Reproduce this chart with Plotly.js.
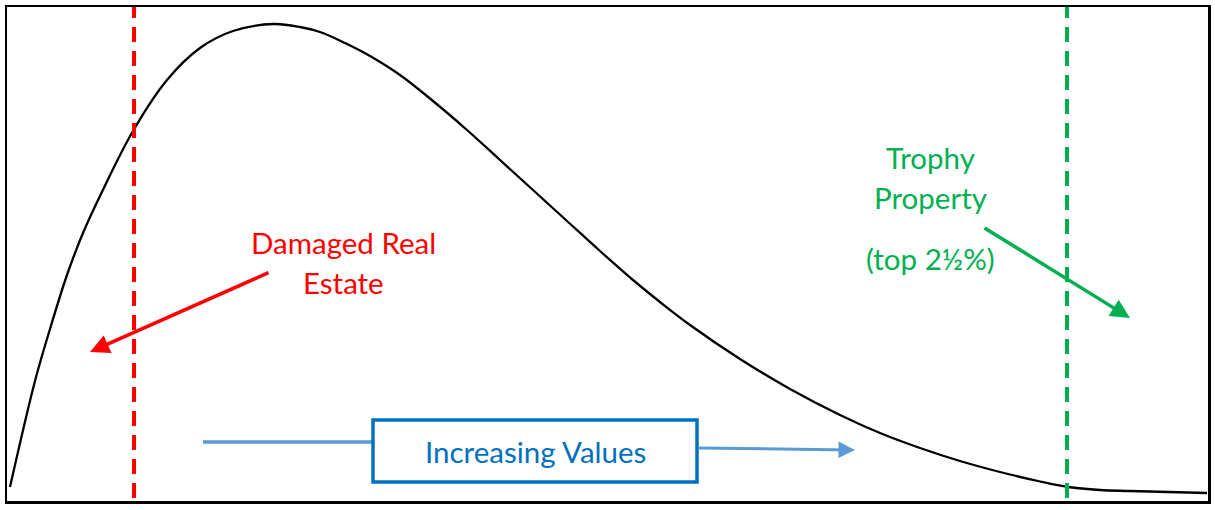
<!DOCTYPE html>
<html>
<head>
<meta charset="utf-8">
<script src="https://cdn.plot.ly/plotly-3.0.1.min.js"></script>
<style>html,body{margin:0;padding:0;background:#fff;}#chart{width:1215px;height:510px;}</style>
</head>
<body>
<div id="chart"></div>
<script>
// Distribution curve (value index vs. relative frequency)
const curveX = [3, 28, 43, 60, 76, 93, 126, 160, 193, 226, 267, 293, 313, 338, 363, 393, 426, 460, 493, 526, 560, 593, 626, 653, 683, 733, 783, 833, 873, 913, 953, 993, 1031, 1061, 1093, 1123, 1200];
const curveY = [14, 120, 172, 226, 268, 305, 370, 421, 453, 470, 477, 474, 469, 458, 445, 426, 400, 371, 341, 311, 280, 250, 221, 199, 176, 142, 112, 86, 68, 53, 40, 29, 20, 14, 11, 10, 8];

// Cut-off markers
const damagedCut = 127;
const trophyCut = 1060;

// Labels
const damagedLabel = ["Damaged Real", "Estate"];
const trophyLabel = ["Trophy", "Property", "(top 2½%)"];
const valuesLabel = "Increasing Values";

const FONT = "Lato, 'Open Sans', sans-serif";
const RED = "#ff0000", GREEN = "#00b050", BLUE = "#0070c0", LBLUE = "#5b9bd5";

const traces = [
  {x: curveX, y: curveY, mode: "lines", line: {color: "#000", width: 2.3, shape: "spline", smoothing: 1}, hoverinfo: "skip"},
  {x: [damagedCut, damagedCut], y: [3, 494], mode: "lines", line: {color: RED, width: 4, dash: "15px,9px"}, hoverinfo: "skip"},
  {x: [trophyCut, trophyCut], y: [3, 494], mode: "lines", line: {color: GREEN, width: 4, dash: "15px,9px"}, hoverinfo: "skip"}
];

function txt(t, x, y, color) {
  return {text: t, x: x, y: y, xref: "x", yref: "y", showarrow: false, font: {family: FONT, size: 29.5, color: color}, xanchor: "center", yanchor: "middle"};
}
function arrow(x, y, ax, ay, color, w) {
  return {text: "", x: x, y: y, ax: ax, ay: ay, xref: "x", yref: "y", axref: "x", ayref: "y", showarrow: true, arrowhead: 2, arrowsize: 1.1, arrowwidth: w, arrowcolor: color, standoff: 0, startstandoff: 0};
}

const annotations = [
  txt(damagedLabel[0], 336, 259, RED),
  txt(damagedLabel[1], 336, 219, RED),
  txt(trophyLabel[0], 923, 344, GREEN),
  txt(trophyLabel[1], 923, 304, GREEN),
  txt(trophyLabel[2], 923, 243, GREEN),
  txt(valuesLabel, 528, 50, BLUE),
  arrow(83, 149, 263, 229, RED, 3.5),
  arrow(1123, 183, 976, 274, GREEN, 3.5),
  arrow(848, 51, 690, 53, LBLUE, 3)
];

const shapes = [
  {type: "line", xref: "x", yref: "y", x0: 196, y0: 59, x1: 366, y1: 59, line: {color: LBLUE, width: 3.5}},
  {type: "rect", xref: "x", yref: "y", x0: 366, y0: 19, x1: 690, y1: 81, line: {color: BLUE, width: 3.5}, fillcolor: "#fff"}
];

const ax = {range: [0, 1201], showgrid: false, zeroline: false, showticklabels: false, ticks: "", showline: true, mirror: true, linecolor: "#000", linewidth: 2.5, fixedrange: true};
const layout = {
  width: 1215, height: 510,
  margin: {l: 7, r: 7, t: 7, b: 9},
  paper_bgcolor: "#fff", plot_bgcolor: "#fff",
  showlegend: false,
  xaxis: ax,
  yaxis: Object.assign({}, ax, {range: [0, 494]}),
  annotations: annotations,
  shapes: shapes
};
Plotly.newPlot("chart", traces, layout, {displayModeBar: false, staticPlot: true});
</script>
</body>
</html>
